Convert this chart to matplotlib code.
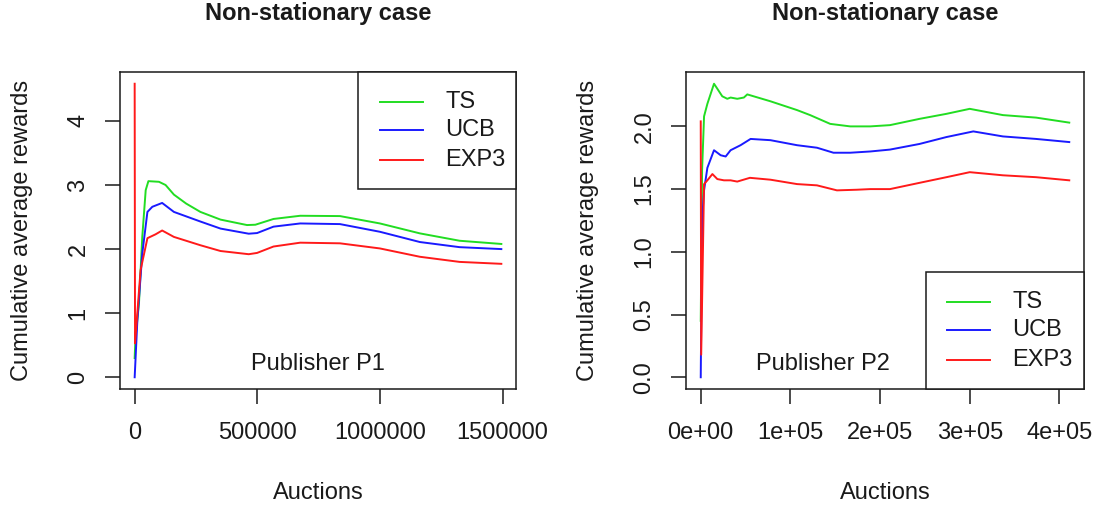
import matplotlib
matplotlib.use("Agg")
import matplotlib.pyplot as plt
from matplotlib.patches import Rectangle
from matplotlib.lines import Line2D

plt.rcParams['font.family'] = ['Liberation Sans', 'DejaVu Sans']

# ---------------- data: Publisher P1 ----------------
p1_ts_x = [0, 3000, 17500, 31000, 45000, 56000, 99000, 126000, 160000, 210000, 268000,
           350000, 458000, 492000, 566000, 675000, 837000, 1000000, 1163000, 1325000, 1495000]
p1_ts_y = [0.30, 0.60, 1.15, 2.19, 2.92, 3.06, 3.05, 3.00, 2.85, 2.71, 2.58,
           2.46, 2.375, 2.38, 2.47, 2.52, 2.515, 2.40, 2.245, 2.13, 2.08]

p1_ucb_x = [0, 11000, 31000, 52000, 72000, 112000, 160000, 268000, 350000, 465000, 499000,
            566000, 675000, 837000, 1000000, 1163000, 1325000, 1495000]
p1_ucb_y = [0.0, 0.89, 1.93, 2.58, 2.66, 2.72, 2.58, 2.43, 2.32, 2.24, 2.25,
            2.35, 2.40, 2.39, 2.27, 2.11, 2.03, 2.00]

p1_exp3_x = [0, 1500, 4000, 24000, 52000, 85000, 112000, 160000, 268000, 350000, 465000,
             499000, 566000, 675000, 837000, 1000000, 1163000, 1325000, 1495000]
p1_exp3_y = [4.58, 0.53, 0.65, 1.67, 2.17, 2.23, 2.29, 2.19, 2.06, 1.97, 1.92,
             1.94, 2.04, 2.10, 2.09, 2.01, 1.88, 1.80, 1.77]

# ---------------- data: Publisher P2 ----------------
p2_ts_x = [0, 1500, 3700, 7400, 11100, 14800, 18500, 24000, 29600, 33300, 40700, 48100,
           51900, 77800, 107400, 122000, 144400, 166700, 189000, 211000, 244000, 274000,
           300000, 337000, 374000, 411000]
p2_ts_y = [0.45, 1.65, 2.08, 2.18, 2.26, 2.34, 2.30, 2.24, 2.22, 2.23, 2.22, 2.23,
           2.255, 2.20, 2.13, 2.09, 2.02, 2.00, 2.00, 2.01, 2.06, 2.10,
           2.14, 2.09, 2.07, 2.03]

p2_ucb_x = [0, 1500, 3700, 7400, 14800, 22200, 27800, 33300, 44400, 55600, 77800, 107400,
            129600, 148000, 166700, 189000, 211000, 244000, 274000, 304000, 337000, 374000, 411000]
p2_ucb_y = [0.0, 1.25, 1.49, 1.67, 1.81, 1.77, 1.76, 1.81, 1.85, 1.90, 1.89, 1.85,
            1.83, 1.79, 1.79, 1.80, 1.815, 1.86, 1.915, 1.96, 1.92, 1.90, 1.875]

p2_exp3_x = [0, 500, 3700, 7400, 13000, 18500, 25900, 33300, 40700, 54800, 77800, 107400,
             129600, 151900, 174000, 189000, 211000, 244000, 274000, 300000, 337000, 374000, 411000]
p2_exp3_y = [2.04, 0.18, 1.54, 1.57, 1.62, 1.58, 1.57, 1.57, 1.56, 1.59, 1.575, 1.54,
             1.53, 1.49, 1.495, 1.50, 1.50, 1.55, 1.595, 1.635, 1.61, 1.595, 1.57]

series_names = ["TS", "UCB", "EXP3"]
series_colors = ["#22dd22", "#1a1aff", "#ff1a1a"]

p1_xticks = [0, 500000, 1000000, 1500000]
p1_xticklabels = ["0", "500000", "1000000", "1500000"]
p1_yticks = [0, 1, 2, 3, 4]
p1_yticklabels = ["0", "1", "2", "3", "4"]

p2_xticks = [0, 100000, 200000, 300000, 400000]
p2_xticklabels = ["0e+00", "1e+05", "2e+05", "3e+05", "4e+05"]
p2_yticks = [0.0, 0.5, 1.0, 1.5, 2.0]
p2_yticklabels = ["0.0", "0.5", "1.0", "1.5", "2.0"]

title = "Non-stationary case"
xlabel = "Auctions"
ylabel = "Cumulative average rewards"

TXT = "#1a1a1a"
FS = 17

W, H = 1099, 508
fig = plt.figure(figsize=(W / 100, H / 100), dpi=100)


def px_axes(l, r, t, b):
    return fig.add_axes([l / W, 1 - b / H, (r - l) / W, (b - t) / H])


def setup(ax, xs, ys, xt, xtl, yt, ytl, pub_label, pub_x, leg_box, leg_rows, leg_line, leg_text):
    for x, y, c in zip(xs, ys, series_colors):
        ax.plot(x, y, color=c, lw=1.4, solid_joinstyle='round')
    ax.margins(x=0.04, y=0.04)
    ax.set_xticks(xt)
    ax.set_xticklabels(xtl)
    ax.set_yticks(yt)
    ax.set_yticklabels(ytl)
    ax.tick_params(axis='both', direction='out', length=11, width=1.1, color=TXT,
                   labelsize=FS, labelcolor=TXT)
    ax.tick_params(axis='x', pad=13)
    ax.tick_params(axis='y', pad=11, labelrotation=90)
    for lab in ax.get_yticklabels():
        lab.set_va('center')
    for s in ax.spines.values():
        s.set_linewidth(1.1)
        s.set_color(TXT)
    ax.set_title(title, fontsize=FS, fontweight='bold', color=TXT, y=1.183, va='center', pad=0)
    ax.set_xlabel(xlabel, fontsize=FS, color=TXT, va='center')
    ax.xaxis.set_label_coords(0.5, -0.328)
    ax.set_ylabel(ylabel, fontsize=FS, color=TXT, va='center', ha='center', rotation_mode='anchor')
    ax.yaxis.set_label_coords(-0.247, 0.5)
    ax.text(pub_x, 0.079, pub_label, transform=ax.transAxes, fontsize=FS, color=TXT,
            ha='center', va='center')
    # legend box (R style)
    x0, y0, x1, y1 = leg_box
    ax.add_patch(Rectangle((x0, y0), x1 - x0, y1 - y0, transform=ax.transAxes,
                           fill=True, facecolor='white', edgecolor=TXT, lw=1.1,
                           clip_on=False, zorder=5))
    for yy, name, c in zip(leg_rows, series_names, series_colors):
        ax.add_line(Line2D([leg_line[0], leg_line[1]], [yy, yy], transform=ax.transAxes,
                           color=c, lw=1.4, zorder=6))
        ax.text(leg_text, yy, name, transform=ax.transAxes, fontsize=FS, color=TXT,
                ha='left', va='center', zorder=6)


ax1 = px_axes(120, 516, 72, 389)
setup(ax1, [p1_ts_x, p1_ucb_x, p1_exp3_x], [p1_ts_y, p1_ucb_y, p1_exp3_y],
      p1_xticks, p1_xticklabels, p1_yticks, p1_yticklabels,
      "Publisher P1", 0.5,
      (0.601, 0.631, 1.0, 1.0), [0.906, 0.817, 0.722], (0.657, 0.765), 0.821)

ax2 = px_axes(686, 1084, 72, 389)
setup(ax2, [p2_ts_x, p2_ucb_x, p2_exp3_x], [p2_ts_y, p2_ucb_y, p2_exp3_y],
      p2_xticks, p2_xticklabels, p2_yticks, p2_yticklabels,
      "Publisher P2", 0.344,
      (0.603, 0.0, 1.0, 0.369), [0.275, 0.186, 0.091], (0.655, 0.764), 0.820)

fig.savefig("out.png", dpi=100, facecolor='white')
